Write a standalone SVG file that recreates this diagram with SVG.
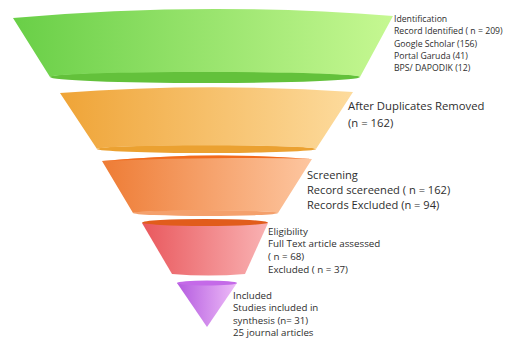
<svg xmlns="http://www.w3.org/2000/svg" width="518" height="338" viewBox="0 0 518 338">
<defs>
<linearGradient id="gGreen" x1="0" y1="0" x2="1" y2="0"><stop offset="0" stop-color="#69cf47"/><stop offset="1" stop-color="#c6f892"/></linearGradient>
<linearGradient id="gYellow" x1="0" y1="0" x2="1" y2="0"><stop offset="0" stop-color="#efa437"/><stop offset="1" stop-color="#fddb9d"/></linearGradient>
<linearGradient id="gOrange" x1="0" y1="0" x2="1" y2="0"><stop offset="0" stop-color="#ee7c35"/><stop offset="1" stop-color="#fdc6a0"/></linearGradient>
<linearGradient id="gRed" x1="0" y1="0" x2="1" y2="0"><stop offset="0" stop-color="#e9585d"/><stop offset="1" stop-color="#f9b2b3"/></linearGradient>
<linearGradient id="gPurple" x1="0" y1="0" x2="1" y2="0"><stop offset="0" stop-color="#b45bdf"/><stop offset="1" stop-color="#eebcf8"/></linearGradient>
</defs>
<style>
text{font-family:"Open Sans","Liberation Sans",sans-serif;fill:#2e2e2e;}
.t1{font-size:8.7px;}
.t2{font-size:11.3px;}
.t3{font-size:11.1px;}
.t4{font-size:9.8px;}
.t5{font-size:9.7px;}
</style>
<g id="connectors"/>
<g id="identification">
<ellipse cx="205" cy="77" rx="155" ry="6" fill="#63c13b"/>
<path d="M13,18 Q203,1 393,16 L360,77 A155,5 0 0 0 50,77 Z" fill="url(#gGreen)"/>
<text class="t1" x="394" y="21.5">Identification</text>
<text class="t1" x="394" y="34">Record Identified ( n = 209)</text>
<text class="t1" x="394" y="46.5">Google Scholar (156)</text>
<text class="t1" x="394" y="58.5">Portal Garuda (41)</text>
<text class="t1" x="394" y="70.5">BPS/ DAPODIK (12)</text>
</g>
<g id="duplicates">
<ellipse cx="206.5" cy="149" rx="109.5" ry="4" fill="#eba131"/>
<path d="M60,93 Q206,82 353,92 L316,149 A109.5,3.5 0 0 0 97,149 Z" fill="url(#gYellow)"/>
<text class="t2" x="348" y="110">After Duplicates Removed</text>
<text class="t2" x="348" y="127">(n = 162)</text>
</g>
<g id="screening">
<ellipse cx="205.5" cy="213" rx="72.5" ry="3" fill="#f4a06c"/>
<path d="M102,161 Q207,151 312,159 L278,213 A72.5,2.5 0 0 0 133,213 Z" fill="url(#gOrange)"/>
<path d="M102,161 Q207,151 312,159 Q207,156 102,161 Z" fill="#f26a1c"/>
<text class="t3" x="307" y="179">Screening</text>
<text class="t3" x="307" y="194">Record scereened ( n = 162)</text>
<text class="t3" x="307" y="209">Records Excluded (n = 94)</text>
</g>
<g id="eligibility">
<path d="M142,223 L268,223 L245,274 Q208.5,277 172,274 Z" fill="url(#gRed)"/>
<ellipse cx="205" cy="222.5" rx="63" ry="3.5" fill="#e15c1b"/>
<text class="t4" x="268" y="234.5">Eligibility</text>
<text class="t4" x="268" y="247">Full Text article assessed</text>
<text class="t4" x="268" y="260">( n = 68)</text>
<text class="t4" x="268" y="273">Excluded ( n = 37)</text>
</g>
<g id="included">
<path d="M177,283 L237,283 L207,327 Z" fill="url(#gPurple)"/>
<ellipse cx="207" cy="283" rx="30" ry="2.5" fill="#c46ae8"/>
<text class="t5" x="233" y="298.5">Included</text>
<text class="t5" x="233" y="311">Studies included in</text>
<text class="t5" x="233" y="323.5">synthesis (n= 31)</text>
<text class="t5" x="233" y="335.5">25 journal articles</text>
</g>
</svg>
